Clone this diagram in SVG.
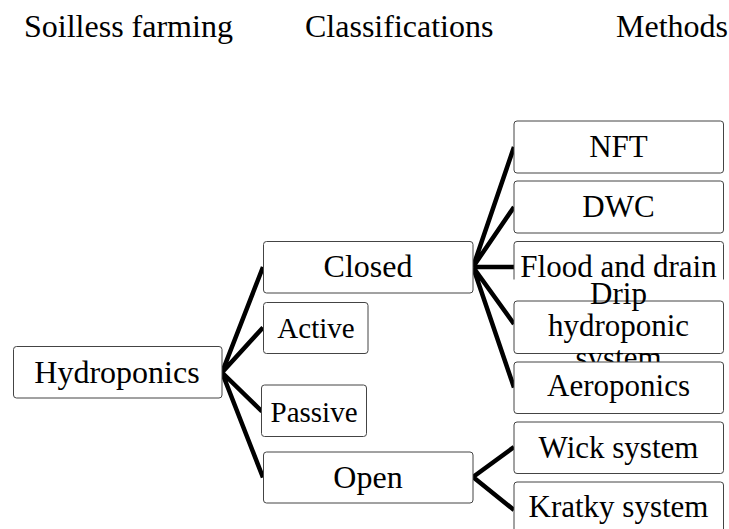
<svg xmlns="http://www.w3.org/2000/svg" width="729" height="529" viewBox="0 0 729 529" font-family="'Liberation Serif', 'Times New Roman', Tinos, 'DejaVu Serif', serif">
<style>
text{font-family:'Liberation Serif', 'Times New Roman', Tinos, 'DejaVu Serif', serif;fill:#000;text-anchor:middle}
.h{font-size:32px;text-anchor:start}
.box{fill:#fff;stroke:#444;stroke-width:1}
.t32{font-size:32px}
.t31{font-size:31px}
.t29{font-size:29px}
.c{stroke:#000;stroke-width:4.5;fill:none;stroke-linecap:butt}
</style>
<rect width="729" height="529" fill="#fff"/>
<g id="headers">
<text class="h" x="24" y="37">Soilless farming</text>
<text class="h" x="305" y="37">Classifications</text>
<text class="h" x="616" y="37">Methods</text>
</g>
<g id="connectors">
<path class="c" d="M222 372.5 L263 267 M222 372.5 L263 327.5 M222 372.5 L262 411.5 M222 372.5 L263 477.5"/>
<path class="c" d="M473 267 L514 147 M473 267 L514 207 M473 267 L514 267 M473 267 L514 324 M473 267 L514 387.5"/>
<path class="c" d="M473 477 L514 447 M473 477 L514 510"/>
</g>
<g id="hydroponics"><rect class="box" x="13.5" y="346.5" width="208.5" height="51.5" rx="3"/><text class="t32" x="117" y="383">Hydroponics</text></g>
<g id="closed"><rect class="box" x="263.5" y="241.5" width="209.5" height="51.5" rx="3"/><text class="t32" x="368" y="277">Closed</text></g>
<g id="active"><rect class="box" x="263.5" y="302.5" width="104.5" height="51" rx="3"/><text class="t29" x="316" y="337.5">Active</text></g>
<g id="passive"><rect class="box" x="261.5" y="385" width="105" height="51.5" rx="3"/><text class="t29" x="314" y="421.5">Passive</text></g>
<g id="open"><rect class="box" x="263.5" y="452" width="209.5" height="51" rx="3"/><text class="t32" x="368" y="488">Open</text></g>
<g id="nft"><rect class="box" x="514" y="121" width="209.5" height="52" rx="3"/><text class="t31" x="618.5" y="157">NFT</text></g>
<g id="dwc"><rect class="box" x="514" y="181" width="209.5" height="52" rx="3"/><text class="t31" x="618.5" y="217">DWC</text></g>
<g id="flood"><rect class="box" x="514" y="241.5" width="209.5" height="52" rx="3"/><text class="t31" x="618.5" y="277">Flood and drain</text><rect x="510" y="279.5" width="218" height="21" fill="#fff"/></g>
<g id="drip"><rect class="box" x="514" y="301" width="209.5" height="52.5" rx="3"/><text class="t31" x="618.5" y="304">Drip</text><text class="t31" x="618.5" y="336">hydroponic</text><text class="t31" x="618.5" y="368">system</text></g>
<g id="aeroponics"><rect class="box" x="514" y="362" width="209.5" height="51.5" rx="3"/><text class="t31" x="618.5" y="396">Aeroponics</text></g>
<g id="wick"><rect class="box" x="514" y="422" width="209.5" height="51.5" rx="3"/><text class="t31" x="618.5" y="458">Wick system</text></g>
<g id="kratky"><rect class="box" x="514" y="482" width="209.5" height="52" rx="3"/><text class="t31" x="618.5" y="517">Kratky system</text></g>
</svg>
